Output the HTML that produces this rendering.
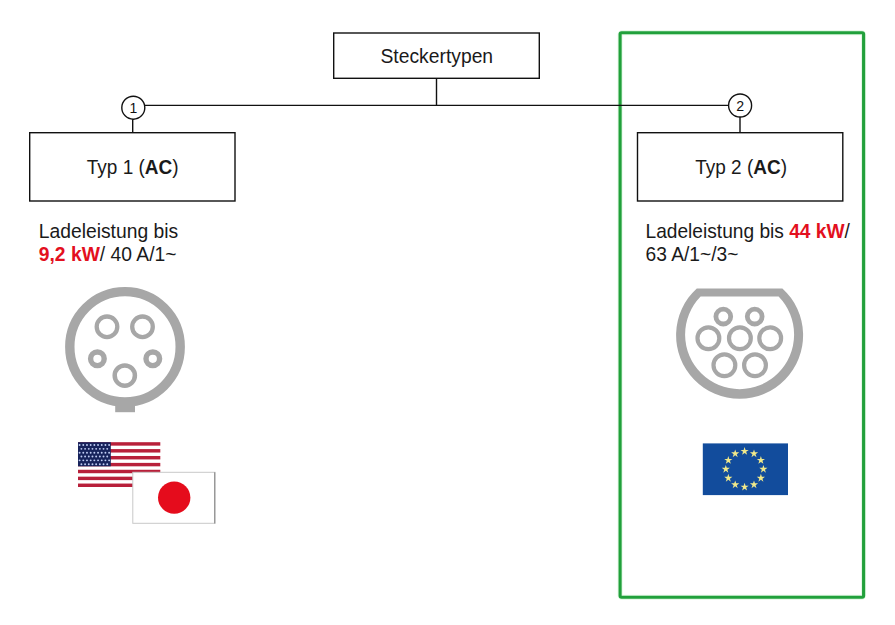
<!DOCTYPE html>
<html><head><meta charset="utf-8">
<style>
html,body{margin:0;padding:0;background:#fff;}
body{width:895px;height:625px;overflow:hidden;position:relative;font-family:"Liberation Sans", sans-serif;}
svg{position:absolute;left:0;top:0;}
text{font-family:"Liberation Sans", sans-serif;}
</style></head><body>
<svg width="895" height="625" viewBox="0 0 895 625">
<rect x="620.1" y="32.7" width="243.5" height="564.6" rx="2" fill="none" stroke="#e2f8e4" stroke-width="5"/>
<rect x="620.1" y="32.7" width="243.5" height="564.6" rx="1.5" fill="none" stroke="#21a03b" stroke-width="3.1"/>
<g stroke="#111" stroke-width="1.4" fill="none">
<rect x="333.7" y="33.0" width="205.6" height="45.3"/>
<line x1="436.5" y1="78.5" x2="436.5" y2="105.4"/>
<line x1="144.9" y1="105.4" x2="728.5" y2="105.4"/>
<circle cx="133.3" cy="107.7" r="11.5"/>
<circle cx="740.1" cy="105.5" r="11.5"/>
<line x1="132.7" y1="119.2" x2="132.7" y2="132.7"/>
<line x1="740" y1="117" x2="740" y2="132.7"/>
<rect x="29.7" y="132.7" width="205.3" height="68.3"/>
<rect x="637.5" y="132.7" width="205.3" height="68.3"/>
</g>
<text transform="translate(380.5,62.5) scale(1,1.08)" font-size="19.3" fill="#1a1a1a">Steckertypen</text>
<text transform="translate(129.4,112.6) scale(1,1.1)" font-size="14" fill="#111">1</text>
<text transform="translate(736.3,111.1) scale(1,1.08)" font-size="14.2" fill="#111">2</text>
<text transform="translate(86.75,173.5) scale(1,1.08)" font-size="19.0" fill="#1a1a1a">Typ 1 (<tspan font-weight="bold">AC</tspan>)</text>
<text transform="translate(695.25,173.5) scale(1,1.06)" font-size="19.0" fill="#1a1a1a">Typ 2 (<tspan font-weight="bold">AC</tspan>)</text>
<text transform="translate(38.75,237.6) scale(1,1.08)" font-size="19.3" fill="#1a1a1a">Ladeleistung bis</text>
<text transform="translate(38.75,260.55) scale(1,1.06)" font-size="19.3" fill="#1a1a1a"><tspan font-weight="bold" fill="#e3101e">9,2 kW</tspan>/ 40 A/1~</text>
<text transform="translate(645.55,237.6) scale(1,1.06)" font-size="19.15" fill="#1a1a1a">Ladeleistung bis <tspan font-weight="bold" fill="#e3101e">44 kW</tspan>/</text>
<text transform="translate(645.6,260.8) scale(1,1.04)" font-size="19.2" fill="#1a1a1a">63 A/1~/3~</text>
<g fill="none" stroke="#a7a7a7">
<circle cx="125" cy="346.8" r="55.2" stroke-width="9.4"/>
<circle cx="107" cy="326.8" r="10.3" stroke-width="4.3"/>
<circle cx="142.5" cy="326.8" r="10.3" stroke-width="4.3"/>
<circle cx="97.4" cy="358.8" r="6.8" stroke-width="5.4"/>
<circle cx="152.8" cy="358.8" r="6.8" stroke-width="5.4"/>
<circle cx="124.8" cy="375.6" r="10.1" stroke-width="4.5"/>
</g>
<rect x="115.2" y="400" width="19.8" height="12.2" fill="#a7a7a7"/>
<path fill="#a7a7a7" fill-rule="evenodd" d="M696.8 288.4 A63.5 63.5 0 1 0 782.4 288.4 Z M700.6 296.6 A54.5 54.5 0 1 0 778.6 296.6 Z"/>
<g fill="none" stroke="#a7a7a7">
<circle cx="723.3" cy="316.6" r="7.4" stroke-width="4.8"/>
<circle cx="754.7" cy="316.6" r="7.4" stroke-width="4.8"/>
<circle cx="708.4" cy="338.3" r="10.9" stroke-width="4.2"/>
<circle cx="739.9" cy="338.3" r="10.9" stroke-width="4.2"/>
<circle cx="770.2" cy="338.3" r="10.9" stroke-width="4.2"/>
<circle cx="724.4" cy="365.2" r="10.9" stroke-width="4.2"/>
<circle cx="755" cy="365.2" r="10.9" stroke-width="4.2"/>
</g>
<rect x="78.0" y="442.2" width="82.3" height="44.8" fill="#fff"/>
<rect x="78.0" y="442.20" width="82.3" height="3.45" fill="#b8203a"/>
<rect x="78.0" y="449.09" width="82.3" height="3.45" fill="#b8203a"/>
<rect x="78.0" y="455.98" width="82.3" height="3.45" fill="#b8203a"/>
<rect x="78.0" y="462.88" width="82.3" height="3.45" fill="#b8203a"/>
<rect x="78.0" y="469.77" width="82.3" height="3.45" fill="#b8203a"/>
<rect x="78.0" y="476.66" width="82.3" height="3.45" fill="#b8203a"/>
<rect x="78.0" y="483.55" width="82.3" height="3.45" fill="#b8203a"/>
<rect x="78.0" y="442.2" width="32.8" height="24.12" fill="#17235c"/>
<circle cx="79.60" cy="445.00" r="0.95" fill="#c0ccf4"/>
<circle cx="83.29" cy="445.00" r="0.95" fill="#c0ccf4"/>
<circle cx="86.98" cy="445.00" r="0.95" fill="#c0ccf4"/>
<circle cx="90.67" cy="445.00" r="0.95" fill="#c0ccf4"/>
<circle cx="94.36" cy="445.00" r="0.95" fill="#c0ccf4"/>
<circle cx="98.05" cy="445.00" r="0.95" fill="#c0ccf4"/>
<circle cx="101.74" cy="445.00" r="0.95" fill="#c0ccf4"/>
<circle cx="105.43" cy="445.00" r="0.95" fill="#c0ccf4"/>
<circle cx="109.12" cy="445.00" r="0.95" fill="#c0ccf4"/>
<circle cx="81.40" cy="448.84" r="0.95" fill="#c0ccf4"/>
<circle cx="85.09" cy="448.84" r="0.95" fill="#c0ccf4"/>
<circle cx="88.78" cy="448.84" r="0.95" fill="#c0ccf4"/>
<circle cx="92.47" cy="448.84" r="0.95" fill="#c0ccf4"/>
<circle cx="96.16" cy="448.84" r="0.95" fill="#c0ccf4"/>
<circle cx="99.85" cy="448.84" r="0.95" fill="#c0ccf4"/>
<circle cx="103.54" cy="448.84" r="0.95" fill="#c0ccf4"/>
<circle cx="107.23" cy="448.84" r="0.95" fill="#c0ccf4"/>
<circle cx="79.60" cy="452.68" r="0.95" fill="#c0ccf4"/>
<circle cx="83.29" cy="452.68" r="0.95" fill="#c0ccf4"/>
<circle cx="86.98" cy="452.68" r="0.95" fill="#c0ccf4"/>
<circle cx="90.67" cy="452.68" r="0.95" fill="#c0ccf4"/>
<circle cx="94.36" cy="452.68" r="0.95" fill="#c0ccf4"/>
<circle cx="98.05" cy="452.68" r="0.95" fill="#c0ccf4"/>
<circle cx="101.74" cy="452.68" r="0.95" fill="#c0ccf4"/>
<circle cx="105.43" cy="452.68" r="0.95" fill="#c0ccf4"/>
<circle cx="109.12" cy="452.68" r="0.95" fill="#c0ccf4"/>
<circle cx="81.40" cy="456.52" r="0.95" fill="#c0ccf4"/>
<circle cx="85.09" cy="456.52" r="0.95" fill="#c0ccf4"/>
<circle cx="88.78" cy="456.52" r="0.95" fill="#c0ccf4"/>
<circle cx="92.47" cy="456.52" r="0.95" fill="#c0ccf4"/>
<circle cx="96.16" cy="456.52" r="0.95" fill="#c0ccf4"/>
<circle cx="99.85" cy="456.52" r="0.95" fill="#c0ccf4"/>
<circle cx="103.54" cy="456.52" r="0.95" fill="#c0ccf4"/>
<circle cx="107.23" cy="456.52" r="0.95" fill="#c0ccf4"/>
<circle cx="79.60" cy="460.36" r="0.95" fill="#c0ccf4"/>
<circle cx="83.29" cy="460.36" r="0.95" fill="#c0ccf4"/>
<circle cx="86.98" cy="460.36" r="0.95" fill="#c0ccf4"/>
<circle cx="90.67" cy="460.36" r="0.95" fill="#c0ccf4"/>
<circle cx="94.36" cy="460.36" r="0.95" fill="#c0ccf4"/>
<circle cx="98.05" cy="460.36" r="0.95" fill="#c0ccf4"/>
<circle cx="101.74" cy="460.36" r="0.95" fill="#c0ccf4"/>
<circle cx="105.43" cy="460.36" r="0.95" fill="#c0ccf4"/>
<circle cx="109.12" cy="460.36" r="0.95" fill="#c0ccf4"/>
<circle cx="81.40" cy="464.20" r="0.95" fill="#c0ccf4"/>
<circle cx="85.09" cy="464.20" r="0.95" fill="#c0ccf4"/>
<circle cx="88.78" cy="464.20" r="0.95" fill="#c0ccf4"/>
<circle cx="92.47" cy="464.20" r="0.95" fill="#c0ccf4"/>
<circle cx="96.16" cy="464.20" r="0.95" fill="#c0ccf4"/>
<circle cx="99.85" cy="464.20" r="0.95" fill="#c0ccf4"/>
<circle cx="103.54" cy="464.20" r="0.95" fill="#c0ccf4"/>
<circle cx="107.23" cy="464.20" r="0.95" fill="#c0ccf4"/>
<rect x="132.8" y="472.3" width="82.2" height="51" fill="#fff" stroke="#c8c8c8" stroke-width="1"/>
<line x1="214.7" y1="472.3" x2="214.7" y2="523.5" stroke="#909090" stroke-width="1.2"/>
<circle cx="174.2" cy="497.6" r="16.2" fill="#e50c1c"/>
<rect x="702.8" y="443.4" width="85.2" height="51.7" fill="#124c9c"/>
<polygon points="744.60,447.00 745.57,449.97 748.69,449.97 746.16,451.81 747.13,454.78 744.60,452.94 742.07,454.78 743.04,451.81 740.51,449.97 743.63,449.97" fill="#f1e98a"/>
<polygon points="754.00,449.40 754.97,452.37 758.09,452.37 755.56,454.21 756.53,457.18 754.00,455.34 751.47,457.18 752.44,454.21 749.91,452.37 753.03,452.37" fill="#f1e98a"/>
<polygon points="760.88,455.95 761.85,458.92 764.97,458.92 762.44,460.76 763.41,463.73 760.88,461.89 758.35,463.73 759.32,460.76 756.79,458.92 759.92,458.92" fill="#f1e98a"/>
<polygon points="763.40,464.90 764.37,467.87 767.49,467.87 764.96,469.71 765.93,472.68 763.40,470.84 760.87,472.68 761.84,469.71 759.31,467.87 762.43,467.87" fill="#f1e98a"/>
<polygon points="760.88,473.85 761.85,476.82 764.97,476.82 762.44,478.66 763.41,481.63 760.88,479.79 758.35,481.63 759.32,478.66 756.79,476.82 759.92,476.82" fill="#f1e98a"/>
<polygon points="754.00,480.40 754.97,483.37 758.09,483.37 755.56,485.21 756.53,488.18 754.00,486.34 751.47,488.18 752.44,485.21 749.91,483.37 753.03,483.37" fill="#f1e98a"/>
<polygon points="744.60,482.80 745.57,485.77 748.69,485.77 746.16,487.61 747.13,490.58 744.60,488.74 742.07,490.58 743.04,487.61 740.51,485.77 743.63,485.77" fill="#f1e98a"/>
<polygon points="735.20,480.40 736.17,483.37 739.29,483.37 736.76,485.21 737.73,488.18 735.20,486.34 732.67,488.18 733.64,485.21 731.11,483.37 734.23,483.37" fill="#f1e98a"/>
<polygon points="728.32,473.85 729.28,476.82 732.41,476.82 729.88,478.66 730.85,481.63 728.32,479.79 725.79,481.63 726.76,478.66 724.23,476.82 727.35,476.82" fill="#f1e98a"/>
<polygon points="725.80,464.90 726.77,467.87 729.89,467.87 727.36,469.71 728.33,472.68 725.80,470.84 723.27,472.68 724.24,469.71 721.71,467.87 724.83,467.87" fill="#f1e98a"/>
<polygon points="728.32,455.95 729.28,458.92 732.41,458.92 729.88,460.76 730.85,463.73 728.32,461.89 725.79,463.73 726.76,460.76 724.23,458.92 727.35,458.92" fill="#f1e98a"/>
<polygon points="735.20,449.40 736.17,452.37 739.29,452.37 736.76,454.21 737.73,457.18 735.20,455.34 732.67,457.18 733.64,454.21 731.11,452.37 734.23,452.37" fill="#f1e98a"/>
</svg>
</body></html>
